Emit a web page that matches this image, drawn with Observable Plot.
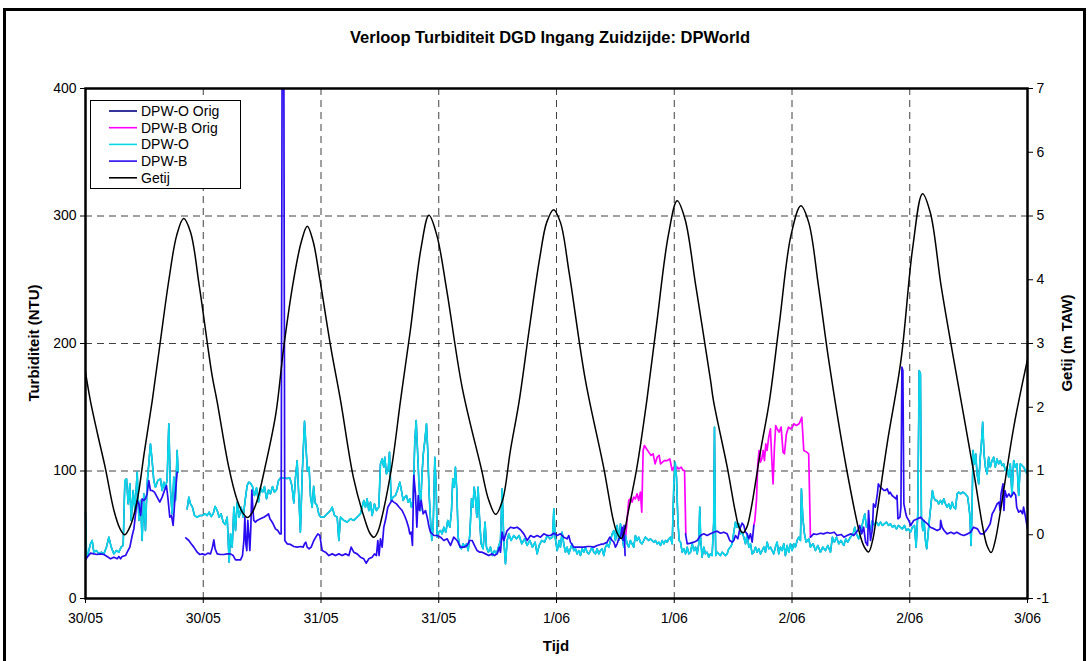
<!DOCTYPE html>
<html><head><meta charset="utf-8">
<script src="https://cdn.jsdelivr.net/npm/d3@7"></script>
<script src="https://cdn.jsdelivr.net/npm/@observablehq/plot@0.6"></script>
<style>
html,body{margin:0;padding:0;background:#fff;overflow:hidden;}
#wrap{position:relative;width:1089px;height:661px;font-family:"Liberation Sans",Arial,sans-serif;color:#000;}
#chart{position:absolute;left:0;top:0;}
#frame{position:absolute;left:3px;top:8px;width:1077px;height:720px;border:3px solid #000;pointer-events:none;}
#title{position:absolute;left:0;width:1100px;top:28px;text-align:center;font-weight:bold;font-size:16.5px;}
.lab{position:absolute;font-weight:bold;font-size:15px;white-space:nowrap;}
#legend{position:absolute;left:90px;top:100px;}
</style></head>
<body><div id="wrap"><div id="chart"></div>
<div id="title">Verloop Turbiditeit DGD Ingang Zuidzijde: DPWorld</div>
<div class="lab" id="ylab" style="left:33px;top:343px;transform:translate(-50%,-50%) rotate(-90deg);">Turbiditeit (NTU)</div>
<div class="lab" id="y2lab" style="left:1066px;top:343px;transform:translate(-50%,-50%) rotate(-90deg);">Getij (m TAW)</div>
<div class="lab" id="xlab" style="left:556px;top:645px;transform:translate(-50%,-50%);">Tijd</div>
<svg id="legend" width="151" height="89"></svg>
<div id="frame"></div>
</div>
<script>
// ---- axis ticks / labels ----
const xTicks = [0,12,24,36,48,60,72,84,96];          // hours since 30/05 00:00
const xTickLabels = ["30/05","30/05","31/05","31/05","1/06","1/06","2/06","2/06","3/06"];
const leftTicks = [0,100,200,300,400];
const rightTicks = [-1,0,1,2,3,4,5,6,7];
const gridLevels = [100,200,300];
const leftMax = 400, rightMin = -1, rightMax = 7;

const seriesNames = ["DPW-O Orig","DPW-B Orig","DPW-O","DPW-B","Getij"];
const seriesColors = ["#000080","#ff00ff","#08d8ea","#2a0cf0","#000000"];

// ---- DPW-O (NTU) [hour, value] ----
const dpwO = [[0,67.7],[0.1,35.0],[0.17,32.4],[0.51,42.9],[0.68,45.5],[0.85,36.3],[1.12,37.6],[1.36,35.0],[1.60,36.3],[1.87,35.0],[2.14,40.3],[2.38,48.1],[2.62,40.3],[2.89,35.0],[3.16,37.6],[3.40,36.3],[3.63,40.3],[3.84,41.6],[4.01,92.5],[4.18,93.9],[4.35,74.2],[4.52,89.9],[4.65,61.2],[4.86,84.7],[5.03,69.0],[5.27,99.1],[5.44,61.2],[5.61,76.9],[5.77,45.5],[5.94,82.1],[6.11,53.3],[6.28,89.9],[6.45,105.6],[6.62,121.3],[6.79,108.2],[6.96,92.5],[7.13,87.3],[7.37,92.5],[7.64,93.9],[7.81,84.7],[7.98,91.2],[8.15,86.0],[8.32,93.9],[8.49,137.0],[8.66,84.7],[8.83,66.4],[9.00,95.2],[9.17,76.9],[9.34,116.1],[9.44,99.1],
[9.8,null],
[10.36,70.3],[10.53,79.5],[10.70,74.2],[10.90,71.6],[11.11,65.1],[11.38,63.8],[11.65,65.1],[11.92,65.1],[12.19,66.4],[12.40,65.1],[12.60,67.7],[12.81,64.3],[13.01,66.4],[13.21,72.2],[13.42,69.0],[13.62,63.8],[13.82,66.4],[14.03,59.9],[14.23,58.0],[14.44,63.8],[14.64,28.5],[14.78,50.7],[14.95,40.3],[15.12,71.6],[15.29,53.3],[15.46,75.6],[15.66,63.8],[15.86,71.6],[16.07,63.8],[16.27,76.9],[16.47,88.6],[16.64,91.2],[16.81,90.5],[17.02,87.8],[17.22,80.8],[17.43,86.8],[17.63,75.6],[17.83,86.8],[18.04,83.4],[18.24,87.8],[18.45,78.2],[18.65,85.2],[18.85,82.1],[19.06,87.8],[19.26,83.4],[19.46,85.2],[19.67,92.5],[19.87,94.6],[20.21,94.6],[20.55,94.1],[20.82,94.6],[21.03,88.6],[21.23,75.0],[21.40,95.0],[21.57,108.0],[21.74,80.0],[21.90,52.0],[22.10,100.0],[22.32,139.0],[22.49,116.1],[22.62,100.0],[22.79,103.0],[22.93,80.0],[23.10,71.6],[23.25,88.0],[23.40,75.0],[23.60,73.0],[23.78,66.0],[23.95,64.0],
[24.29,63.8],[24.63,66.4],[24.97,69.0],[25.14,71.6],[25.38,65.1],[25.65,63.8],[25.82,45.5],[25.99,63.8],[26.33,61.2],[26.67,59.9],[27.01,62.5],[27.34,61.2],[27.68,63.8],[28.02,66.4],[28.36,76.9],[28.53,71.6],[28.70,78.2],[28.87,69.0],[29.04,75.6],[29.21,65.1],[29.45,74.2],[29.65,69.0],[29.89,71.6],[30.06,105.6],[30.23,109.5],[30.40,103.0],[30.50,110.8],[30.67,97.8],[30.84,100.4],[30.98,114.8],[31.15,76.9],[31.35,79.5],[31.59,80.8],[31.83,86.0],[32.03,91.2],[32.20,84.7],[32.37,76.9],[32.54,79.5],[32.71,80.8],[32.88,75.6],[33.05,78.2],[33.22,71.6],[33.39,76.9],[33.56,123.9],[33.70,139.6],[33.87,110.8],[34.00,87.3],[34.14,69.0],[34.28,95.2],[34.41,112.2],[34.58,123.9],[34.75,137.0],[34.88,116.1],[35.02,82.1],[35.16,61.2],[35.29,45.5],[35.43,55.9],[35.60,110.8],[35.74,87.3],[35.84,48.1],[35.97,52.0],[36.18,53.3],[36.35,50.7],[36.52,55.9],[36.72,52.0],[36.92,61.2],[37.13,55.9],[37.30,69.0],[37.43,93.9],[37.57,87.3],[37.70,103.0],[37.84,84.7],[37.98,48.1],[38.15,40.3],[38.31,39.0],[38.48,42.9],[38.66,40.3],[38.83,42.9],[39.00,37.6],[39.17,50.7],[39.34,78.2],[39.48,71.6],[39.61,87.3],[39.74,79.5],[39.88,63.8],[40.01,87.3],[40.15,63.8],[40.32,42.9],[40.52,39.0],[40.72,59.9],[40.86,40.3],[41.06,36.3],[41.27,40.3],[41.47,33.7],[41.68,37.6],[41.88,35.0],[42.08,40.3],[42.29,45.5],[42.46,86.0],[42.63,45.5],[42.80,27.2],[42.97,45.5],[43.14,50.7],[43.37,45.5],[43.65,49.4],[43.92,46.8],[44.19,49.4],[44.46,42.9],[44.74,46.8],[45.01,41.6],[45.28,45.5],[45.55,40.3],[45.82,44.2],[46.03,35.0],[46.23,41.6],[46.50,45.5],[46.78,44.2],[47.05,49.4],[47.32,46.8],[47.59,48.1],[47.73,70.3],[47.86,48.1],[48.07,37.6],[48.27,45.5],
[48.40,40.3],[48.57,52.0],[48.74,42.9],[48.91,36.3],[49.08,40.3],[49.25,35.0],[49.42,39.0],[49.59,42.9],[49.76,37.6],[49.93,39.0],[50.10,35.0],[50.27,37.6],[50.44,33.7],[50.61,39.0],[50.78,36.3],[50.95,40.3],[51.12,36.3],[51.29,35.0],[51.46,37.6],[51.63,40.3],[51.80,36.3],[51.97,35.0],[52.14,39.0],[52.31,35.0],[52.48,37.6],[52.65,39.0],[52.82,33.7],[52.99,40.3],[53.16,42.9],[53.33,40.3],[53.50,45.5],[53.67,50.7],[53.84,53.3],[54.01,45.5],[54.18,57.3],[54.35,45.5],[54.52,58.6],[54.69,48.1],[54.86,40.3],[55.03,49.4],[55.20,42.9],[55.36,40.3],[55.53,45.5],[55.70,42.9],[55.87,40.3],[56.04,49.4],[56.21,45.5],[56.38,48.1],[56.55,44.2],[56.72,42.9],[56.89,45.5],[57.06,48.1],[57.23,46.8],[57.40,45.5],[57.57,46.8],[57.74,45.5],[57.91,44.2],[58.08,45.5],[58.26,42.9],[58.43,44.2],[58.60,41.6],[58.77,45.5],[58.94,42.9],[59.11,45.5],[59.28,44.2],[59.45,46.8],[59.62,48.1],[59.79,42.9],[59.96,89.9],[60.10,106.9],[60.23,95.2],[60.37,61.2],[60.50,45.5],[60.64,44.2],[60.81,36.3],[60.98,39.0],[61.15,35.0],[61.32,40.3],[61.49,35.0],[61.66,36.3],[61.83,42.9],[62.00,37.6],[62.17,40.3],[62.34,35.0],[62.50,42.9],[62.60,71.6],[62.70,45.5],[62.84,32.4],[63.01,40.3],[63.18,35.0],[63.35,36.3],[63.52,32.4],[63.69,35.0],[63.86,33.7],[64.02,60.0],[64.10,134.4],[64.18,60.0],[64.23,33.7],[64.37,36.3],[64.54,35.0],[64.71,33.7],[64.88,36.3],[65.05,35.0],[65.22,33.7],[65.39,35.0],[65.56,39.0],[65.73,40.3],[65.90,42.9],[66.07,52.0],[66.24,59.9],[66.41,55.9],[66.58,58.6],[66.75,50.7],[66.92,52.0],[67.09,48.1],[67.26,42.9],[67.43,50.7],[67.60,40.3],[67.77,42.9],[67.94,35.0],[68.11,36.3],[68.28,40.3],[68.45,36.3],[68.62,39.0],[68.79,35.0],[68.96,37.6],[69.13,40.3],[69.30,36.3],[69.47,44.2],[69.64,39.0],[69.80,40.3],[69.97,37.6],[70.14,35.0],[70.31,40.3],[70.48,44.2],[70.65,35.0],[70.82,40.3],[70.99,37.6],[71.16,42.9],[71.33,33.7],[71.50,41.6],[71.67,36.3],[71.84,42.9],[72.01,37.6],[72.18,42.9],[72.35,40.3],[72.52,45.5],[72.69,48.1],
[72.86,45.5],[72.96,86.0],[73.10,63.8],[73.27,50.7],[73.44,44.2],[73.71,46.8],[73.88,40.3],[74.15,42.9],[74.39,37.6],[74.63,41.6],[74.90,36.3],[75.14,40.3],[75.41,37.6],[75.65,41.6],[75.92,36.3],[76.12,48.1],[76.32,44.2],[76.53,48.1],[76.77,42.9],[77.00,45.5],[77.28,41.6],[77.48,46.8],[77.68,44.2],[77.96,48.1],[78.23,50.7],[78.40,55.9],[78.57,50.7],[78.80,46.8],[79.04,53.3],[79.25,61.2],[79.42,66.4],[79.59,55.9],[79.79,58.6],[80.00,53.3],[80.20,61.2],[80.41,57.3],[80.61,59.9],[80.82,57.3],[81.02,59.9],[81.22,57.3],[81.43,58.6],[81.63,59.9],[81.83,57.3],[82.03,58.6],[82.24,55.9],[82.44,57.3],[82.65,54.6],[82.85,57.3],[83.05,55.9],[83.25,54.6],[83.46,57.3],[83.66,53.3],[83.87,54.6],[84.07,52.0],[84.27,55.9],[84.48,57.3],[84.65,40.3],[84.82,66.4],[84.96,178.8],[85.09,176.2],[85.19,63.8],[85.33,53.3],[85.46,61.2],[85.60,45.5],[85.73,39.0],[85.87,50.7],[86.03,63.8],[86.17,74.2],[86.31,84.7],[86.44,79.5],[86.61,76.9],[86.78,76.9],[86.95,74.2],[87.13,76.9],[87.30,74.2],[87.47,78.2],[87.64,74.2],[87.81,71.6],[87.98,74.2],[88.15,70.3],[88.32,75.6],[88.49,71.6],[88.66,70.3],[88.83,82.1],[89.00,83.4],[89.17,82.1],[89.40,83.4],[89.67,82.1],[89.91,79.5],[90.11,66.4],[90.25,41.6],[90.35,71.6],[90.45,116.1],[90.59,105.6],[90.72,113.5],[90.86,97.8],[91.03,89.9],[91.16,108.2],[91.30,121.3],[91.43,138.3],[91.57,113.5],[91.71,103.0],[91.88,97.8],[92.04,110.8],[92.21,103.0],[92.38,108.2],[92.55,110.8],[92.72,103.0],[92.89,109.5],[93.06,105.6],[93.23,108.2],[93.40,104.3],[93.57,105.6],[93.74,100.4],[93.91,103.0],[94.08,95.2],[94.25,105.6],[94.42,80.8],[94.59,108.2],[94.76,103.0],[94.93,105.6],[95.10,80.8],[95.27,105.6],[95.44,104.3],[95.61,103.0],[95.78,100.4],[95.95,97.8]];

// ---- DPW-B (NTU) ----
const dpwB = [[0,30.3],[0.17,32.4],[0.51,35.6],[0.85,35.0],[1.19,34.5],[1.53,35.0],[1.87,34.5],[2.21,32.9],[2.55,31.1],[2.89,32.4],[3.23,31.1],[3.40,32.9],[3.57,31.1],[3.74,32.9],[4.08,33.7],[4.25,36.3],[4.52,40.3],[4.76,49.4],[4.93,54.6],[5.10,66.4],[5.27,76.9],[5.44,74.2],[5.61,65.1],[5.77,78.2],[5.94,76.9],[6.11,78.2],[6.28,82.1],[6.45,92.5],[6.62,84.7],[6.79,84.7],[7.03,83.4],[7.30,79.5],[7.57,75.6],[7.81,79.5],[8.05,84.7],[8.25,88.6],[8.39,79.5],[8.59,63.8],[8.76,65.1],[8.93,57.3],[9.10,76.9],[9.34,99.1],
[9.8,null],
[10.22,47.6],[10.53,45.5],[10.77,42.9],[11.04,40.3],[11.38,36.3],[11.65,34.5],[11.92,35.0],[12.19,34.2],[12.47,35.6],[12.74,35.0],[12.94,40.3],[13.08,46.0],[13.21,39.0],[13.42,35.0],[13.76,34.5],[14.10,34.5],[14.44,35.0],[14.78,35.0],[15.05,33.7],[15.29,30.3],[15.52,30.3],[15.80,30.3],[16.00,33.7],[16.14,45.5],[16.24,63.8],[16.34,42.9],[16.44,37.6],[16.54,61.2],[16.64,50.7],[16.75,37.6],[16.85,55.9],[16.95,85.0],[17.05,71.6],[17.15,61.2],[17.32,59.9],[17.49,61.2],[17.83,62.5],[18.17,63.8],[18.45,65.1],[18.65,66.4],[18.79,62.5],[18.92,61.2],[19.12,58.6],[19.36,54.6],[19.60,53.3],[19.80,50.7],[19.94,50.7],[20.04,430],[20.21,430],[20.31,45.5],[20.55,42.9],[20.89,42.4],[21.23,40.8],[21.57,40.3],[21.91,40.8],[22.18,40.3],[22.32,42.9],[22.45,44.2],[22.59,40.3],[22.79,39.0],[23.00,40.3],[23.27,45.5],[23.47,48.1],[23.68,50.7],[23.88,49.4],
[24.12,37.6],[24.46,36.3],[24.80,33.7],[25.14,35.0],[25.48,33.7],[25.82,35.0],[26.16,33.7],[26.50,35.0],[26.84,33.7],[27.07,40.3],[27.34,36.3],[27.68,35.0],[28.02,32.4],[28.36,31.1],[28.60,27.7],[28.87,31.1],[29.21,32.4],[29.45,35.0],[29.65,33.7],[29.79,45.5],[29.92,33.7],[30.06,46.8],[30.23,40.3],[30.40,55.9],[30.60,62.5],[30.81,71.6],[31.01,74.2],[31.22,76.9],[31.42,75.6],[31.69,74.2],[31.97,71.6],[32.27,69.0],[32.51,65.1],[32.71,61.2],[32.92,55.9],[33.05,50.7],[33.19,52.0],[33.32,41.6],[33.46,96.5],[33.63,82.1],[33.77,55.9],[33.91,80.8],[34.04,69.0],[34.21,76.9],[34.41,66.4],[34.65,69.0],[34.82,63.8],[35.02,55.9],[35.16,52.0],[35.50,49.4],[35.84,49.4],[36.18,48.1],[36.52,45.5],[36.86,46.8],[37.20,41.6],[37.53,48.1],[37.87,45.5],[38.21,40.3],[38.55,40.3],[38.89,41.6],[39.16,45.5],[39.40,45.5],[39.64,41.6],[39.91,37.6],[40.18,36.3],[40.42,36.3],[40.76,35.0],[41.10,33.7],[41.44,35.0],[41.68,33.7],[41.95,35.0],[42.19,40.3],[42.29,36.3],[42.46,52.0],[42.63,45.5],[42.97,53.3],[43.31,55.9],[43.65,55.2],[43.99,55.9],[44.33,53.9],[44.67,50.7],[45.01,45.5],[45.35,49.4],[45.69,48.1],[46.03,49.4],[46.37,48.1],[46.71,50.7],[47.05,49.4],[47.39,49.4],[47.73,51.2],[48.07,49.4],
[48.40,50.7],[48.74,48.1],[49.08,46.8],[49.25,49.4],[49.42,44.2],[49.76,40.3],[50.10,40.3],[50.44,40.3],[50.78,40.3],[51.12,40.8],[51.46,40.8],[51.80,40.3],[52.14,41.6],[52.48,42.4],[52.82,42.9],[53.16,44.2],[53.43,48.1],[53.67,45.5],[53.84,44.2],[54.01,40.3],[54.18,42.9],[54.35,46.8],[54.52,48.1],[54.69,55.9],[54.79,45.5],[54.89,57.3],[54.99,33.7],
[58.0,null],
[61.15,50.7],[61.32,42.9],[61.66,43.4],[62.00,44.2],[62.34,45.5],[62.67,49.4],[63.01,50.7],[63.35,49.4],[63.69,50.7],[64.03,52.0],[64.37,52.8],[64.71,51.2],[65.05,52.0],[65.39,50.7],[65.66,45.5],[65.90,44.2],[66.07,45.5],[66.24,49.4],[66.48,46.8],[66.68,54.6],[66.92,59.1],[67.09,57.3],[67.26,52.0],[67.43,50.7],[67.60,46.8],[67.77,50.7],[67.94,44.2],[68.11,57.3],
[71.0,null],
[73.88,48.1],[74.2,50.7],[74.5,50.2],[74.9,51.2],[75.2,50.7],[75.6,51.8],[75.9,51.2],[76.3,52.0],[76.6,49.4],[77.0,50.2],[77.3,48.1],[77.6,49.4],[78.0,50.7],[78.3,49.4],[78.7,53.3],[78.9,57.3],[79.1,50.7],[79.3,55.9],[79.5,44.2],[79.7,41.6],[79.8,69.0],[80.0,45.5],[80.2,54.6],[80.3,74.2],[80.5,71.6],[80.7,82.1],[80.8,89.9],[81.0,87.3],[81.2,86.0],[81.4,84.7],[81.5,84.7],[81.7,86.0],[81.9,82.1],[82.0,83.4],[82.2,80.8],[82.4,79.5],[82.6,78.2],[82.7,80.8],[82.8,62.5],[83.0,63.8],[83.1,71.6],[83.2,181.4],[83.3,178.8],[83.4,74.2],[83.6,66.4],[83.7,63.8],[83.9,61.2],[84.1,57.3],[84.2,58.6],[84.4,61.2],[84.8,62.5],[85.1,63.8],[85.4,61.2],[85.8,58.6],[86.1,55.9],[86.5,54.6],[86.8,53.3],[87.1,54.6],[87.15,61.2],[87.3,55.9],[87.5,53.3],[87.8,50.7],[88.2,52.0],[88.5,50.7],[88.8,52.0],[89.2,50.2],[89.5,49.4],[89.9,50.7],[90.2,52.0],[90.4,54.6],[90.5,55.9],[90.9,54.6],[91.2,50.7],[91.5,50.7],[91.9,54.6],[92.2,58.6],[92.4,66.4],[92.6,69.0],[92.9,74.2],[93.1,75.6],[93.2,69.0],[93.3,82.1],[93.5,89.9],[93.6,69.0],[93.7,84.7],[93.9,79.5],[94.1,82.1],[94.3,79.5],[94.6,83.4],[94.8,80.8],[94.9,71.6],[95.1,67.7],[95.3,69.0],[95.5,66.4],[95.6,71.6],[95.8,63.8],[96.0,54.6]];

// ---- DPW-B Orig (NTU), visible where DPW-B is missing ----
const dpwBOrig = [[55.03,46.8],[55.36,76.9],[55.53,78.2],[55.70,75.6],[55.87,79.5],[56.04,78.2],[56.21,82.1],[56.38,76.9],[56.55,83.4],[56.69,67.7],[56.83,116.1],[56.96,120.0],[57.17,117.4],[57.40,114.8],[57.64,112.2],[57.85,113.5],[58.05,105.6],[58.26,110.8],[58.46,112.2],[58.60,105.6],[58.80,107.0],[59.01,108.2],[59.28,108.2],[59.55,109.5],[59.79,100.4],[59.96,103.0],[60.13,99.1],[60.30,103.0],[60.47,101.7],[60.71,103.0],[60.91,100.4],[61.05,100.4],[61.18,50.7],
[64.5,null],
[68.11,57.3],[68.21,61.2],[68.38,76.9],[68.51,105.6],[68.65,116.1],[68.78,107.0],[68.92,109.5],[69.06,116.1],[69.19,108.2],[69.33,121.3],[69.46,116.1],[69.63,126.5],[69.80,133.1],[69.94,109.5],[70.07,89.9],[70.21,118.7],[70.34,135.7],[70.48,133.1],[70.68,130.5],[70.89,134.4],[71.09,114.8],[71.23,113.5],[71.43,129.1],[71.64,134.4],[71.84,133.1],[72.04,134.4],[72.18,137.0],[72.45,135.7],[72.72,137.0],[72.80,138.3],[73.00,142.2],[73.20,116.1],[73.50,114.8],[73.70,113.5],[73.88,48.1]];

// ---- DPW-O Orig: identical to DPW-O (drawn underneath) ----
const dpwOOrig = dpwO;

// ---- Getij (m TAW) [hour, level] ----
const getij = [[0,2.55],[0.5,2.1],[1.2,1.6],[2.0,1.06],[2.9,0.38],[3.5,0.1],[4.0,0.0],[4.6,0.15],[5.27,0.54],[6.0,1.3],[6.8,2.1],[7.6,3.0],[8.5,4.0],[9.3,4.7],[10.0,4.96],[10.7,4.75],[11.6,3.9],[12.9,2.5],[13.4,2.1],[14.6,1.06],[15.46,0.54],[16.0,0.35],[16.5,0.27],[17.0,0.35],[17.5,0.54],[18.3,1.06],[19.4,1.9],[20.2,2.94],[21.2,3.99],[22.0,4.6],[22.6,4.84],[23.2,4.6],[23.9,3.99],[25.0,2.94],[26.0,2.1],[27.3,0.9],[28.4,0.27],[29.0,0.02],[29.4,-0.04],[29.8,0.05],[30.2,0.27],[31.2,1.06],[32.1,2.1],[33.1,3.2],[34.2,4.5],[35.0,5.01],[35.8,4.7],[36.8,3.85],[38.4,2.3],[40.3,1.06],[41.1,0.54],[41.8,0.32],[42.5,0.54],[43.3,1.32],[44.2,2.1],[45.2,3.2],[46.3,4.35],[47.0,4.9],[47.7,5.10],[48.4,4.9],[49.3,4.1],[50.95,2.42],[52.8,1.06],[53.8,0.22],[54.2,0.02],[54.6,-0.06],[55.0,0.1],[55.2,0.27],[56.2,1.06],[57.2,2.1],[58.2,3.3],[59.4,4.7],[60.3,5.24],[61.1,4.95],[62.2,3.9],[63.7,2.42],[64.0,2.1],[65.4,1.06],[66.2,0.38],[66.6,0.12],[67.0,0.03],[67.4,0.12],[67.8,0.38],[68.8,1.32],[69.7,2.1],[70.7,3.3],[71.9,4.7],[72.9,5.16],[73.7,4.9],[74.7,3.9],[75.75,2.73],[77.6,1.0],[79.0,-0.04],[79.4,-0.2],[79.8,-0.27],[80.2,-0.1],[80.7,0.38],[81.7,1.43],[83.1,2.73],[84.3,4.5],[85.3,5.35],[86.1,5.05],[87.2,3.9],[88.5,2.73],[90.5,1.0],[91.5,0.07],[91.9,-0.18],[92.3,-0.28],[92.7,-0.1],[93.25,0.38],[94.6,1.69],[96.0,2.75]];

// map right-axis (tide) values onto the left (NTU) scale
const k = leftMax / (rightMax - rightMin);
const toNTU = m => (m - rightMin) * k;
const rows = a => a.map(([t, v]) => ({t, v}));
const tideRows = getij.map(([t, m]) => ({t, v: toNTU(m)}));

const grid = {stroke: "#000", strokeOpacity: 0.75, strokeDasharray: "7,5", strokeWidth: 1};

const chart = Plot.plot({
  width: 1089, height: 661,
  marginLeft: 85, marginRight: 62, marginTop: 88, marginBottom: 63,
  style: {fontFamily: "'Liberation Sans', Arial, sans-serif", fontSize: "14px", color: "#000", background: "transparent"},
  x: {domain: [xTicks[0], xTicks[xTicks.length - 1]]},
  y: {domain: [0, leftMax]},
  marks: [
    Plot.gridY(gridLevels, grid),
    Plot.gridX(xTicks.slice(1, -1), grid),
    Plot.line(rows(dpwOOrig), {x: "t", y: "v", stroke: seriesColors[0], strokeWidth: 1.4}),
    Plot.line(rows(dpwBOrig), {x: "t", y: "v", stroke: seriesColors[1], strokeWidth: 1.7}),
    Plot.line(rows(dpwO), {x: "t", y: "v", stroke: seriesColors[2], strokeWidth: 1.7}),
    Plot.line(rows(dpwB), {x: "t", y: "v", stroke: seriesColors[3], strokeWidth: 1.7, clip: true}),
    Plot.line(tideRows, {x: "t", y: "v", stroke: seriesColors[4], strokeWidth: 1.5, curve: "catmull-rom", clip: true}),
    Plot.frame({stroke: "#000", strokeWidth: 2.5}),
    Plot.axisY({anchor: "left", ticks: leftTicks, tickFormat: d => String(d), tickSize: 5, tickPadding: 4, fontSize: 14, label: null}),
    Plot.axisY({anchor: "right", ticks: rightTicks.map(toNTU), tickFormat: d => String(Math.round(d / k + rightMin)), tickSize: 5, tickPadding: 4, fontSize: 14, label: null}),
    Plot.axisX({ticks: xTicks, tickFormat: d => xTickLabels[xTicks.indexOf(d)], tickSize: 5, tickPadding: 10, fontSize: 14, label: null})
  ]
});
document.getElementById("chart").appendChild(chart);

// ---- legend ----
const lg = d3.select("#legend");
lg.append("rect").attr("x", 0.5).attr("y", 0.5).attr("width", 150).attr("height", 88).attr("fill", "#fff").attr("stroke", "#000");
seriesNames.forEach((name, i) => {
  const y = 11 + i * 16.7;
  lg.append("line").attr("x1", 19).attr("x2", 47).attr("y1", y).attr("y2", y).attr("stroke", seriesColors[i]).attr("stroke-width", 1.6);
  lg.append("text").attr("x", 51).attr("y", y).attr("dy", "0.35em").attr("font-size", 14)
    .attr("font-family", "'Liberation Sans', Arial, sans-serif").text(name);
});
</script>
</body></html>
